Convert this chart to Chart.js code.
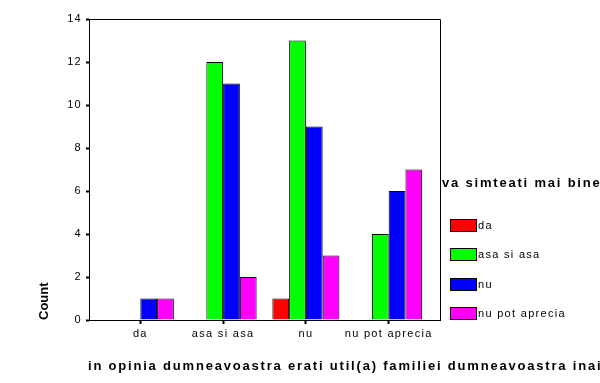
<!DOCTYPE html>
<html><head><meta charset="utf-8">
<script src="https://cdn.jsdelivr.net/npm/chart.js@4/dist/chart.umd.min.js"></script>
<style>html,body{margin:0;padding:0;background:#fff;}</style>
</head><body>
<canvas id="c" width="600" height="383"></canvas>
<script>
const categories = ['da', 'asa si asa', 'nu', 'nu pot aprecia'];
const seriesNames = ['da', 'asa si asa', 'nu', 'nu pot aprecia'];
const seriesDa = [0, 0, 1, 0];
const seriesAsaSiAsa = [0, 12, 13, 4];
const seriesNu = [1, 11, 9, 6];
const seriesNuPotAprecia = [1, 2, 3, 7];
const seriesColors = ['#FF0000', '#00FF00', '#0000FF', '#FF00FF'];
const yMin = 0, yMax = 14, yStep = 2;
const yTitle = 'Count';
const xTitle = 'in opinia dumneavoastra erati util(a) familiei dumneavoastra inainte de internare?';
const legendTitle = 'va simteati mai bine?';

const FONT = '"Liberation Sans", Arial, sans-serif';
Chart.defaults.font.family = FONT;
Chart.defaults.color = '#000';

const allSeries = [seriesDa, seriesAsaSiAsa, seriesNu, seriesNuPotAprecia];
const SMALL_SPACING = '1.3px';

const extrasPlugin = {
  id: 'extras',
  beforeUpdate(chart) { chart.ctx.letterSpacing = SMALL_SPACING; },
  beforeDraw(chart) { chart.ctx.letterSpacing = SMALL_SPACING; },
  afterDatasetsDraw(chart) {
    const {ctx, chartArea: a} = chart;
    ctx.save();
    ctx.strokeStyle = '#000';
    ctx.lineWidth = 1;
    ctx.beginPath();
    ctx.moveTo(Math.round(a.left) + 0.5, Math.round(a.top) + 0.5);
    ctx.lineTo(Math.round(a.right) + 0.5, Math.round(a.top) + 0.5);
    ctx.lineTo(Math.round(a.right) + 0.5, Math.round(a.bottom) + 0.5);
    ctx.stroke();
    ctx.restore();
  },
  afterDraw(chart) {
    const {ctx, chartArea: a} = chart;
    ctx.save();
    ctx.fillStyle = '#000';
    ctx.textBaseline = 'alphabetic';
    ctx.textAlign = 'left';
    // axis title & legend title
    ctx.letterSpacing = '1.8px';
    ctx.font = 'bold 13px ' + FONT;
    ctx.fillText(xTitle, a.left - 1, 369.5);
    ctx.fillText(legendTitle, a.right + 2, 186.5);
    // y title
    ctx.letterSpacing = '0px';
    ctx.save();
    ctx.translate(48, a.bottom);
    ctx.rotate(-Math.PI / 2);
    ctx.fillText(yTitle, 0, 0);
    ctx.restore();
    // legend items
    ctx.letterSpacing = SMALL_SPACING;
    ctx.font = '11px ' + FONT;
    ctx.textBaseline = 'middle';
    chart.data.datasets.forEach((ds, i) => {
      const cy = 225 + i * 29.6;
      const bx = a.right + 10, by = Math.round(cy - 6.5);
      ctx.fillStyle = ds.backgroundColor;
      ctx.fillRect(bx, by, 26, 13);
      ctx.strokeStyle = '#000';
      ctx.lineWidth = 1;
      ctx.strokeRect(bx + 0.5, by + 0.5, 26, 12);
      ctx.fillStyle = '#000';
      ctx.fillText(ds.label, bx + 28, cy + 0.5);
    });
    ctx.restore();
  }
};

new Chart(document.getElementById('c'), {
  type: 'bar',
  data: {
    labels: categories.map((_, i) => i),
    datasets: seriesNames.map((name, i) => ({
      label: name,
      data: allSeries[i],
      backgroundColor: seriesColors[i],
      borderColor: '#000',
      borderWidth: 1,
      barPercentage: 1,
      categoryPercentage: 0.81
    }))
  },
  options: {
    responsive: false,
    animation: false,
    devicePixelRatio: 1,
    layout: { padding: { left: 0, top: 19, right: 160, bottom: 0 } },
    plugins: { legend: { display: false }, tooltip: { enabled: false } },
    scales: {
      x: {
        type: 'linear', min: -0.62, max: 3.62, offset: false,
        afterFit(s) { s.height = 63; },
        grid: { offset: false, drawOnChartArea: false, tickLength: 4, tickWidth: 2, tickColor: '#000', color: '#000' },
        border: { display: true, color: '#000', width: 1 },
        ticks: {
          stepSize: 1, includeBounds: false, autoSkip: false, maxRotation: 0,
          color: '#000', font: { size: 11 }, padding: 3,
          callback: v => Number.isInteger(v) ? categories[v] : ''
        }
      },
      y: {
        min: yMin, max: yMax,
        afterFit(s) { s.width = 89; },
        grid: { drawOnChartArea: false, tickLength: 3, tickWidth: 2, tickColor: '#000', color: '#000' },
        border: { display: true, color: '#000', width: 1 },
        ticks: { stepSize: yStep, color: '#000', font: { size: 11 }, padding: 4 },
        title: { display: false, text: yTitle }
      }
    }
  },
  plugins: [extrasPlugin]
});
</script>
</body></html>
